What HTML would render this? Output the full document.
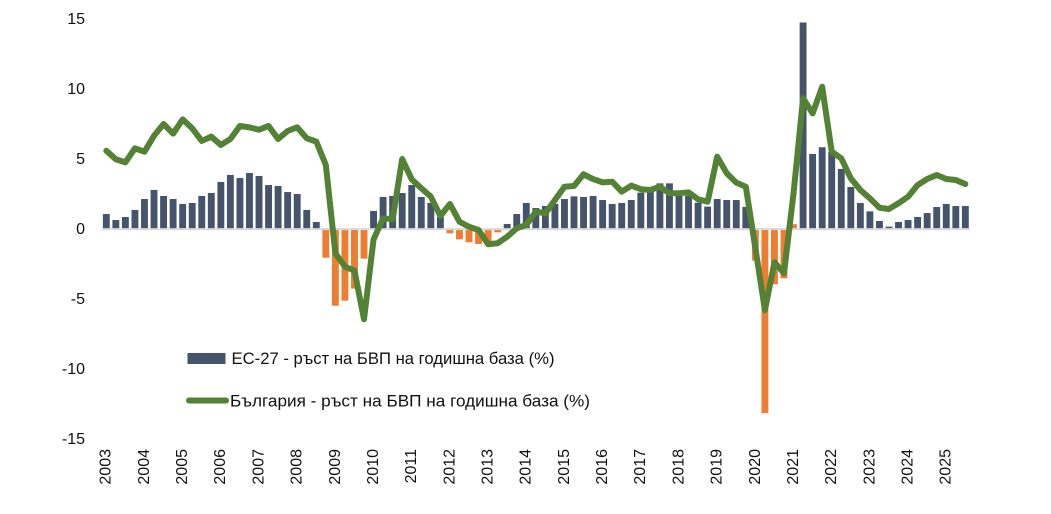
<!DOCTYPE html>
<html>
<head>
<meta charset="utf-8">
<style>
  html,body{margin:0;padding:0;background:#fff;}
  body{width:1051px;height:514px;overflow:hidden;}
  svg{display:block;}
  text{font-family:"Liberation Sans",Arial,sans-serif;fill:#111;}
</style>
</head>
<body>
<svg width="1051" height="514" viewBox="0 0 1051 514" xmlns="http://www.w3.org/2000/svg">
  <g font-size="16" text-anchor="end">
    <text x="85" y="24">15</text>
    <text x="85" y="94">10</text>
    <text x="85" y="164">5</text>
    <text x="85" y="234">0</text>
    <text x="85" y="304">-5</text>
    <text x="85" y="374">-10</text>
    <text x="85" y="444">-15</text>
  </g>

  <g transform="translate(106.3,228.3) scale(9.545,-14)">
    <g fill="#44546A">
      <rect x="-0.36" y="0" width="0.72" height="1.02"/>
      <rect x="0.64" y="0" width="0.72" height="0.59"/>
      <rect x="1.64" y="0" width="0.72" height="0.81"/>
      <rect x="2.64" y="0" width="0.72" height="1.31"/>
      <rect x="3.64" y="0" width="0.72" height="2.09"/>
      <rect x="4.64" y="0" width="0.72" height="2.74"/>
      <rect x="5.64" y="0" width="0.72" height="2.31"/>
      <rect x="6.64" y="0" width="0.72" height="2.09"/>
      <rect x="7.64" y="0" width="0.72" height="1.74"/>
      <rect x="8.64" y="0" width="0.72" height="1.81"/>
      <rect x="9.64" y="0" width="0.72" height="2.31"/>
      <rect x="10.64" y="0" width="0.72" height="2.52"/>
      <rect x="11.64" y="0" width="0.72" height="3.31"/>
      <rect x="12.64" y="0" width="0.72" height="3.81"/>
      <rect x="13.64" y="0" width="0.72" height="3.59"/>
      <rect x="14.64" y="0" width="0.72" height="3.95"/>
      <rect x="15.64" y="0" width="0.72" height="3.74"/>
      <rect x="16.64" y="0" width="0.72" height="3.09"/>
      <rect x="17.64" y="0" width="0.72" height="3.02"/>
      <rect x="18.64" y="0" width="0.72" height="2.59"/>
      <rect x="19.64" y="0" width="0.72" height="2.45"/>
      <rect x="20.64" y="0" width="0.72" height="1.31"/>
      <rect x="21.64" y="0" width="0.72" height="0.45"/>
      <rect x="27.64" y="0" width="0.72" height="1.24"/>
      <rect x="28.64" y="0" width="0.72" height="2.24"/>
      <rect x="29.64" y="0" width="0.72" height="2.31"/>
      <rect x="30.64" y="0" width="0.72" height="2.52"/>
      <rect x="31.64" y="0" width="0.72" height="3.09"/>
      <rect x="32.64" y="0" width="0.72" height="2.24"/>
      <rect x="33.64" y="0" width="0.72" height="1.81"/>
      <rect x="34.64" y="0" width="0.72" height="0.81"/>
      <rect x="41.64" y="0" width="0.72" height="0.31"/>
      <rect x="42.64" y="0" width="0.72" height="1.02"/>
      <rect x="43.64" y="0" width="0.72" height="1.81"/>
      <rect x="44.64" y="0" width="0.72" height="1.45"/>
      <rect x="45.64" y="0" width="0.72" height="1.59"/>
      <rect x="46.64" y="0" width="0.72" height="1.74"/>
      <rect x="47.64" y="0" width="0.72" height="2.09"/>
      <rect x="48.64" y="0" width="0.72" height="2.28"/>
      <rect x="49.64" y="0" width="0.72" height="2.24"/>
      <rect x="50.64" y="0" width="0.72" height="2.31"/>
      <rect x="51.64" y="0" width="0.72" height="2.02"/>
      <rect x="52.64" y="0" width="0.72" height="1.74"/>
      <rect x="53.64" y="0" width="0.72" height="1.81"/>
      <rect x="54.64" y="0" width="0.72" height="2.02"/>
      <rect x="55.64" y="0" width="0.72" height="2.55"/>
      <rect x="56.64" y="0" width="0.72" height="2.62"/>
      <rect x="57.64" y="0" width="0.72" height="3.21"/>
      <rect x="58.64" y="0" width="0.72" height="3.21"/>
      <rect x="59.64" y="0" width="0.72" height="2.55"/>
      <rect x="60.64" y="0" width="0.72" height="2.33"/>
      <rect x="61.64" y="0" width="0.72" height="1.83"/>
      <rect x="62.64" y="0" width="0.72" height="1.55"/>
      <rect x="63.64" y="0" width="0.72" height="2.09"/>
      <rect x="64.64" y="0" width="0.72" height="2.02"/>
      <rect x="65.64" y="0" width="0.72" height="2.02"/>
      <rect x="66.64" y="0" width="0.72" height="1.52"/>
      <rect x="72.64" y="0" width="0.72" height="14.7"/>
      <rect x="73.64" y="0" width="0.72" height="5.31"/>
      <rect x="74.64" y="0" width="0.72" height="5.79"/>
      <rect x="75.64" y="0" width="0.72" height="5.45"/>
      <rect x="76.64" y="0" width="0.72" height="4.24"/>
      <rect x="77.64" y="0" width="0.72" height="2.95"/>
      <rect x="78.64" y="0" width="0.72" height="1.81"/>
      <rect x="79.64" y="0" width="0.72" height="1.21"/>
      <rect x="80.64" y="0" width="0.72" height="0.52"/>
      <rect x="81.64" y="0" width="0.72" height="0.12"/>
      <rect x="82.64" y="0" width="0.72" height="0.45"/>
      <rect x="83.64" y="0" width="0.72" height="0.59"/>
      <rect x="84.64" y="0" width="0.72" height="0.81"/>
      <rect x="85.64" y="0" width="0.72" height="1.09"/>
      <rect x="86.64" y="0" width="0.72" height="1.52"/>
      <rect x="87.64" y="0" width="0.72" height="1.74"/>
      <rect x="88.64" y="0" width="0.72" height="1.59"/>
      <rect x="89.64" y="0" width="0.72" height="1.59"/>
    </g>
    <g fill="#ED7D31">
      <rect x="22.64" y="-2.1" width="0.72" height="2.1"/>
      <rect x="23.64" y="-5.53" width="0.72" height="5.53"/>
      <rect x="24.64" y="-5.17" width="0.72" height="5.17"/>
      <rect x="25.64" y="-4.31" width="0.72" height="4.31"/>
      <rect x="26.64" y="-2.17" width="0.72" height="2.17"/>
      <rect x="35.64" y="-0.36" width="0.72" height="0.36"/>
      <rect x="36.64" y="-0.79" width="0.72" height="0.79"/>
      <rect x="37.64" y="-1.0" width="0.72" height="1.0"/>
      <rect x="38.64" y="-1.12" width="0.72" height="1.12"/>
      <rect x="39.64" y="-1.2" width="0.72" height="1.2"/>
      <rect x="40.64" y="-0.29" width="0.72" height="0.29"/>
      <rect x="67.64" y="-2.31" width="0.72" height="2.31"/>
      <rect x="68.64" y="-13.2" width="0.72" height="13.2"/>
      <rect x="69.64" y="-4.0" width="0.72" height="4.0"/>
      <rect x="70.64" y="-3.57" width="0.72" height="3.57"/>
      <rect x="71.64" y="0" width="0.72" height="0.29"/>
    </g>
  </g>

  <line x1="101.5" y1="229.2" x2="970" y2="229.2" stroke="#D9D9D9" stroke-width="1.8"/>

  <g transform="translate(106.3,228.3) scale(9.545,-14)">
    <polyline fill="none" stroke="#548235" stroke-width="6" stroke-linejoin="round" stroke-linecap="round" vector-effect="non-scaling-stroke"
      points="0,5.54 1,4.93 2,4.71 3,5.71 4,5.47 5,6.61 6,7.45 7,6.76 8,7.78 9,7.14 10,6.24 11,6.55 12,5.95 13,6.38 14,7.31 15,7.21 16,7.04 17,7.31 18,6.38 19,6.95 20,7.21 21,6.43 22,6.19 23,4.52 24,-1.79 25,-2.74 26,-3.02 27,-6.5 28,-0.79 29,0.71 30,0.66 31,4.95 32,3.5 33,2.86 34,2.26 35,0.88 36,1.74 37,0.47 38,0.11 39,-0.12 40,-1.14 41,-1.07 42,-0.6 43,0 44,0.24 45,1.19 46,1.07 47,2.02 48,2.97 49,3.02 50,3.86 51,3.52 52,3.28 53,3.33 54,2.62 55,3.05 56,2.79 57,2.74 58,2.97 59,2.5 60,2.5 61,2.57 62,2.07 63,1.9 64,5.12 65,3.93 66,3.26 67,2.97 68,-1.4 69,-5.84 70,-2.43 71,-3.21 72,2.5 73,9.29 74,8.21 75,10.11 76,5.47 77,5.0 78,3.57 79,2.74 80,2.14 81,1.47 82,1.38 83,1.79 84,2.26 85,3.09 86,3.52 87,3.81 88,3.52 89,3.45 90,3.16"/>
  </g>

  <g font-size="16" text-anchor="end">
    <text transform="translate(110.7,449) rotate(-90)">2003</text>
    <text transform="translate(148.9,449) rotate(-90)">2004</text>
    <text transform="translate(187.1,449) rotate(-90)">2005</text>
    <text transform="translate(225.2,449) rotate(-90)">2006</text>
    <text transform="translate(263.4,449) rotate(-90)">2007</text>
    <text transform="translate(301.6,449) rotate(-90)">2008</text>
    <text transform="translate(339.8,449) rotate(-90)">2009</text>
    <text transform="translate(378.0,449) rotate(-90)">2010</text>
    <text transform="translate(416.1,449) rotate(-90)">2011</text>
    <text transform="translate(454.3,449) rotate(-90)">2012</text>
    <text transform="translate(492.5,449) rotate(-90)">2013</text>
    <text transform="translate(530.7,449) rotate(-90)">2014</text>
    <text transform="translate(568.9,449) rotate(-90)">2015</text>
    <text transform="translate(607.0,449) rotate(-90)">2016</text>
    <text transform="translate(645.2,449) rotate(-90)">2017</text>
    <text transform="translate(683.4,449) rotate(-90)">2018</text>
    <text transform="translate(721.6,449) rotate(-90)">2019</text>
    <text transform="translate(759.8,449) rotate(-90)">2020</text>
    <text transform="translate(797.9,449) rotate(-90)">2021</text>
    <text transform="translate(836.1,449) rotate(-90)">2022</text>
    <text transform="translate(874.3,449) rotate(-90)">2023</text>
    <text transform="translate(912.5,449) rotate(-90)">2024</text>
    <text transform="translate(950.7,449) rotate(-90)">2025</text>
  </g>

  <rect x="187.5" y="353" width="38" height="11" fill="#44546A"/>
  <text x="231.5" y="364.2" font-size="17" textLength="323" lengthAdjust="spacingAndGlyphs">ЕС-27 - ръст на БВП на годишна база (%)</text>
  <line x1="189" y1="400.5" x2="226" y2="400.5" stroke="#548235" stroke-width="6" stroke-linecap="round"/>
  <text x="230" y="406.5" font-size="17" textLength="360" lengthAdjust="spacingAndGlyphs">България - ръст на БВП на годишна база (%)</text>
</svg>
</body>
</html>
